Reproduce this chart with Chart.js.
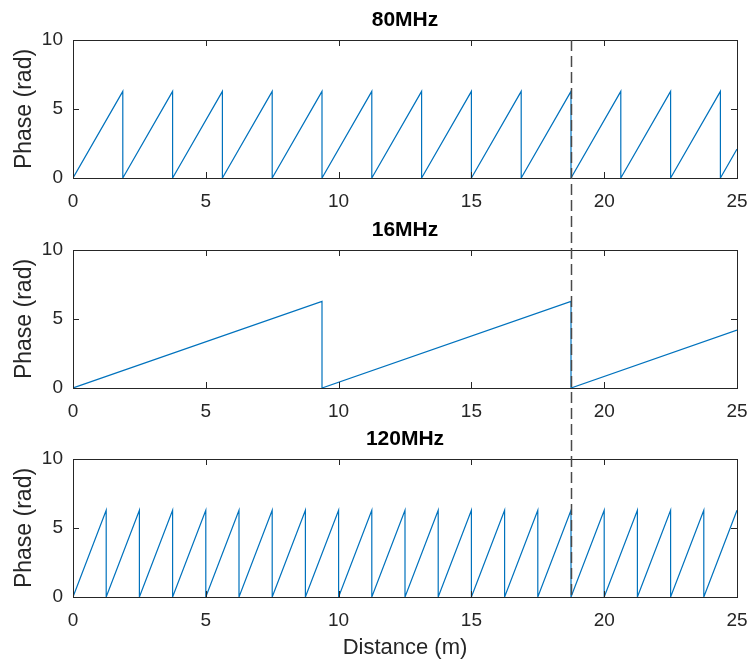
<html>
  <head>
    <meta charset="utf-8">
    <script src="https://cdn.jsdelivr.net/npm/chart.js@4.4.1/dist/chart.umd.min.js"></script>
    <style>
      body { margin: 0; background: #ffffff; }
      #wrap { position: relative; width: 747px; height: 664px; }
      canvas { position: absolute; left: 0; }
    </style>
  </head>
  <body>
    <div id="wrap">
      <canvas id="c80" width="747" height="210" style="top:0px"></canvas>
      <canvas id="c16" width="747" height="210" style="top:210px"></canvas>
      <canvas id="c120" width="747" height="245" style="top:419px"></canvas>
    </div>
    <script>
      // values
      var distance80 = [0, 1.875, 1.875, 3.75, 3.75, 5.625, 5.625, 7.5, 7.5, 9.375, 9.375, 11.25, 11.25,
                        13.125, 13.125, 15, 15, 16.875, 16.875, 18.75, 18.75, 20.625, 20.625, 22.5, 22.5,
                        24.375, 24.375, 25];
      var phase80 = [0, 6.28, 0, 6.28, 0, 6.28, 0, 6.28, 0, 6.28, 0, 6.28, 0,
                     6.28, 0, 6.28, 0, 6.28, 0, 6.28, 0, 6.28, 0, 6.28, 0,
                     6.28, 0, 2.09];
      var distance16 = [0, 9.375, 9.375, 18.75, 18.75, 25];
      var phase16 = [0, 6.28, 0, 6.28, 0, 4.19];
      var distance120 = [0, 1.25, 1.25, 2.5, 2.5, 3.75, 3.75, 5, 5, 6.25, 6.25, 7.5, 7.5, 8.75, 8.75,
                         10, 10, 11.25, 11.25, 12.5, 12.5, 13.75, 13.75, 15, 15, 16.25, 16.25,
                         17.5, 17.5, 18.75, 18.75, 20, 20, 21.25, 21.25, 22.5, 22.5, 23.75, 23.75, 25];
      var phase120 = [0, 6.28, 0, 6.28, 0, 6.28, 0, 6.28, 0, 6.28, 0, 6.28, 0, 6.28, 0,
                      6.28, 0, 6.28, 0, 6.28, 0, 6.28, 0, 6.28, 0, 6.28, 0,
                      6.28, 0, 6.28, 0, 6.28, 0, 6.28, 0, 6.28, 0, 6.28, 0, 6.28];
      var xTicks = [0, 5, 10, 15, 20, 25];
      var yTicks = [0, 5, 10];
      var markerDistance = 18.75;

      var FONT = "'Liberation Sans', Arial, sans-serif";
      var AXCOL = '#262626';
      var PLOT_BOTTOM = 178;

      function boxPlugin(part, dashOffset) {
        return {
          id: 'box' + part,
          afterDatasetsDraw: function(chart) {
            var ctx = chart.ctx, a = chart.chartArea;
            var xs = chart.scales.x, ys = chart.scales.y;
            ctx.save();
            ctx.strokeStyle = AXCOL;
            ctx.lineWidth = 1;
            ctx.strokeRect(Math.round(a.left) + 0.5, Math.round(a.top) + 0.5,
                           Math.round(a.right - a.left), Math.round(a.bottom - a.top));
            ctx.beginPath();
            xTicks.forEach(function(v) {
              var px = Math.round(xs.getPixelForValue(v)) + 0.5;
              ctx.moveTo(px, a.bottom); ctx.lineTo(px, a.bottom - 6);
              ctx.moveTo(px, a.top); ctx.lineTo(px, a.top + 6);
            });
            yTicks.forEach(function(v) {
              var py = Math.round(ys.getPixelForValue(v)) + 0.5;
              ctx.moveTo(a.left, py); ctx.lineTo(a.left + 6, py);
              ctx.moveTo(a.right, py); ctx.lineTo(a.right - 6, py);
            });
            ctx.stroke();
            // dashed marker, continuous across the three panels
            var mx = Math.round(xs.getPixelForValue(markerDistance)) + 0.5;
            var y0 = part === 0 ? a.top : 0;
            var y1 = part === 2 ? a.bottom : chart.height;
            ctx.beginPath();
            ctx.setLineDash([11, 5]);
            ctx.lineDashOffset = dashOffset;
            ctx.strokeStyle = '#4a4a4a';
            ctx.lineWidth = 1.5;
            ctx.moveTo(mx, y0);
            ctx.lineTo(mx, y1);
            ctx.stroke();
            ctx.restore();
          }
        };
      }

      function makeChart(id, title, xs, ys, part, dashOffset, showXTitle) {
        var canvas = document.getElementById(id);
        var H = canvas.height;
        var pts = xs.map(function(x, i) { return {x: x, y: ys[i]}; });
        return new Chart(canvas, {
          type: 'line',
          data: {
            datasets: [{
              data: pts,
              borderColor: '#0072BD',
              borderWidth: 1.2,
              pointRadius: 0,
              tension: 0,
              fill: false
            }]
          },
          options: {
            responsive: false,
            animation: false,
            devicePixelRatio: 1,
            layout: { padding: { left: 0, right: 10, top: 0, bottom: 0 } },
            plugins: {
              legend: { display: false },
              tooltip: { enabled: false },
              title: {
                display: true,
                fullSize: false,
                text: title,
                color: '#000000',
                font: { family: FONT, size: 21, weight: 'bold', lineHeight: 1.2 },
                padding: { top: 8, bottom: 6.8 }
              }
            },
            scales: {
              x: {
                type: 'linear',
                min: 0, max: 25,
                grid: { display: false, drawTicks: false },
                border: { display: false },
                afterBuildTicks: function(s) { s.ticks = xTicks.map(function(v) { return {value: v}; }); },
                afterFit: function(s) { s.height = H - PLOT_BOTTOM; s.paddingLeft = 0; s.paddingRight = 0; },
                ticks: {
                  color: AXCOL, padding: 12, maxRotation: 0,
                  font: { family: FONT, size: 19 }
                },
                title: {
                  display: showXTitle,
                  text: 'Distance (m)',
                  color: AXCOL,
                  font: { family: FONT, size: 22 },
                  padding: { top: 0, bottom: 3 }
                }
              },
              y: {
                min: 0, max: 10,
                grid: { display: false, drawTicks: false },
                border: { display: false },
                afterBuildTicks: function(s) { s.ticks = yTicks.map(function(v) { return {value: v}; }); },
                afterFit: function(s) { s.width = 73; s.paddingTop = 0; s.paddingBottom = 0; },
                ticks: {
                  color: AXCOL, padding: 10,
                  font: { family: FONT, size: 19 }
                },
                title: {
                  display: true,
                  text: 'Phase (rad)',
                  color: AXCOL,
                  font: { family: FONT, size: 23 },
                  padding: { top: 11, bottom: 0 }
                }
              }
            }
          },
          plugins: [boxPlugin(part, dashOffset)]
        });
      }

      makeChart('c80', '80MHz', distance80, phase80, 0, 0, false);
      makeChart('c16', '16MHz', distance16, phase16, 1, 170, false);
      makeChart('c120', '120MHz', distance120, phase120, 2, 379, true);
    </script>
  </body>
</html>
